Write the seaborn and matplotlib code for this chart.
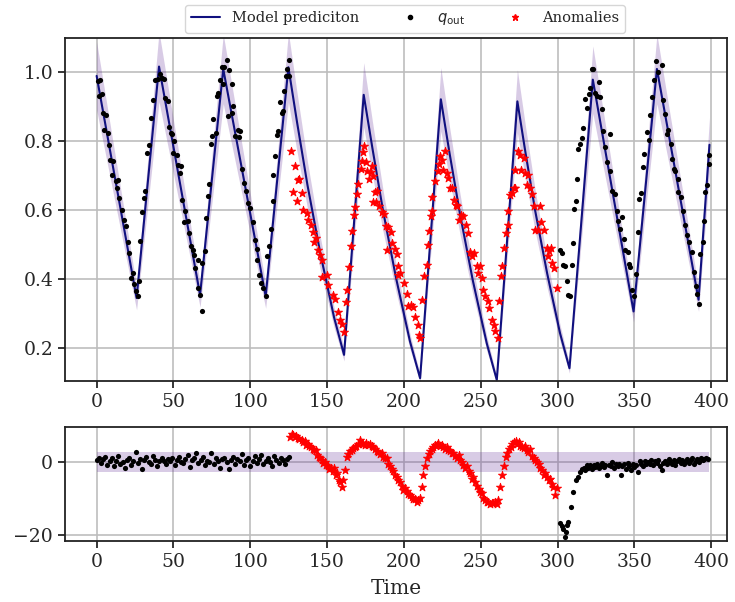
import numpy as np
import pandas as pd
import matplotlib
matplotlib.use("Agg")
import matplotlib.pyplot as plt
import seaborn as sns
from matplotlib.lines import Line2D

# ---------------- data ----------------
model_t = [0, 26, 40.6, 67.3, 82.4, 110, 124.8, 130.4, 137.2, 145.5, 154.5, 161,
           173.8, 179.5, 186.4, 194.8, 203.9, 210.5, 224, 229.6, 236.5, 244.8, 253.9,
           260.4, 273.8, 279.0, 285.4, 293.2, 301.6, 307.7, 322.9, 349.4, 364.6,
           391.7, 398.8]
model_y = [0.99, 0.345, 1.017, 0.354, 1.01, 0.35, 1.015, 0.856, 0.673, 0.476, 0.289, 0.18,
           0.935, 0.779, 0.598, 0.404, 0.219, 0.112, 0.922, 0.767, 0.588, 0.396, 0.213,
           0.107, 0.916, 0.769, 0.598, 0.416, 0.242, 0.141, 0.979, 0.306, 1.01,
           0.34, 0.79]
band_rel = 0.10          # relative half-width of the model uncertainty band
res_band = 2.85          # half-width of the residual band

top_black_t = [0.6, 1.5, 2.2, 3.2, 4.3, 4.8, 5.8, 7.1, 8.0, 8.7, 9.8, 10.8, 12.3, 13.0, 14.1,
               14.7, 16.3, 17.9, 18.9, 20.2, 21.0, 22.3, 23.8, 24.5, 25.4, 26.7, 27.6, 28.2,
               29.3, 31.1, 31.5, 32.6, 34.1, 35.4, 36.9, 38.0, 39.7, 41.2, 42.7, 44.0, 44.5,
               46.2, 47.1, 48.4, 49.3, 49.9, 50.6, 52.1, 53.2, 54.3, 54.9, 55.8, 57.1, 57.5,
               59.2, 60.1, 61.4, 62.9, 63.6, 64.0, 65.7, 66.2, 67.3, 68.3, 68.8, 70.5, 71.2,
               72.7, 73.1, 74.4, 75.3, 75.9, 77.5, 78.1, 79.2, 80.3, 81.4, 82.4, 83.1, 84.6,
               85.3, 86.1, 87.9, 88.3, 88.9, 90.0, 91.8, 92.6, 93.3, 94.8, 96.1, 97.0, 98.3,
               99.8, 102.0, 103.1, 104.2, 104.6, 105.9, 106.8, 108.1, 110.2, 110.6, 112.4,
               113.2, 114.5, 115.0, 116.0, 117.6, 118.2, 119.3, 120.4, 121.5, 121.9, 123.2,
               123.7, 124.9, 125.4,
               301.6, 302.7, 303.8, 304.9, 306.0, 307.0, 308.2, 309.3, 309.9, 310.7, 312.0,
               312.9, 313.5, 314.7, 315.7, 316.8, 317.9, 319.0, 320.1, 321.2, 322.3, 323.3,
               324.4, 325.5, 326.6, 327.7, 328.8, 329.8, 330.9, 332.0, 333.8, 334.2, 335.3,
               337.4, 338.5, 339.6, 340.7, 341.8, 342.9, 344.0, 345.5, 346.2, 347.3, 348.4,
               349.9, 351.1, 352.0, 352.9, 354.2, 355.5, 356.4, 358.1, 359.2, 359.8, 361.3,
               362.4, 364.1, 365.6, 367.7, 368.8, 369.9, 371.0, 372.1, 373.6, 374.3, 375.4,
               376.5, 378.0, 378.6, 380.4, 381.9, 383.0, 384.1, 385.8, 387.4, 388.5, 390.0,
               390.7, 391.8, 392.9, 394.6, 395.5, 396.1, 397.2, 398.3, 398.7]
top_black_q = [0.976, 0.931, 0.979, 0.936, 0.883, 0.834, 0.876, 0.824, 0.79, 0.747, 0.703, 0.744,
               0.686, 0.664, 0.689, 0.635, 0.601, 0.572, 0.553, 0.509, 0.475, 0.402, 0.417,
               0.386, 0.364, 0.35, 0.393, 0.511, 0.594, 0.635, 0.655, 0.766, 0.788, 0.868,
               0.921, 0.979, 0.982, 0.994, 0.984, 0.982, 0.926, 0.916, 0.841, 0.824, 0.82,
               0.766, 0.80, 0.761, 0.732, 0.708, 0.727, 0.63, 0.567, 0.598, 0.569, 0.533,
               0.497, 0.484, 0.47, 0.432, 0.455, 0.375, 0.354, 0.307, 0.448, 0.481, 0.577,
               0.64, 0.676, 0.792, 0.814, 0.866, 0.824, 0.931, 0.941, 0.979, 1.015, 0.965,
               1.015, 1.037, 0.873, 1.008, 0.965, 0.883, 0.902, 0.814, 0.834, 0.813, 0.829,
               0.721, 0.679, 0.657, 0.621, 0.606, 0.567, 0.514, 0.488, 0.456, 0.413, 0.388,
               0.374, 0.35, 0.468, 0.497, 0.546, 0.628, 0.701, 0.756, 0.819, 0.829, 0.914,
               0.882, 0.887, 0.945, 0.989, 1.011, 0.99, 1.037,
               0.485, 0.476, 0.442, 0.437, 0.395, 0.355, 0.35, 0.442, 0.505, 0.602, 0.626,
               0.69, 0.777, 0.792, 0.81, 0.84, 0.922, 0.898, 0.937, 0.956, 1.01, 1.01,
               0.939, 0.932, 0.971, 0.93, 0.894, 0.831, 0.783, 0.739, 0.821, 0.715, 0.657,
               0.648, 0.599, 0.57, 0.546, 0.58, 0.517, 0.483, 0.478, 0.444, 0.435, 0.367,
               0.352, 0.415, 0.536, 0.633, 0.65, 0.725, 0.764, 0.827, 0.803, 0.875, 0.93,
               0.977, 1.033, 1.0, 1.023, 0.919, 0.88, 0.822, 0.832, 0.793, 0.749, 0.72,
               0.715, 0.652, 0.691, 0.638, 0.599, 0.556, 0.527, 0.507, 0.478, 0.42, 0.381,
               0.357, 0.328, 0.473, 0.507, 0.57, 0.652, 0.672, 0.735, 0.759]

top_anom_t = [126.5, 128.0, 129.1, 130.6, 131.2, 131.9, 133.4, 134.5, 136.7, 137.7, 139.3, 141.0,
              141.7, 142.8, 144.3, 145.4, 146.4, 146.9, 149.7, 150.8, 154.0, 155.1, 156.8,
              158.4, 159.5, 161.0, 162.3, 162.7, 164.3, 165.6, 166.4, 167.5, 168.2, 169.3,
              170.3, 171.9, 172.6, 173.2, 174.1, 175.1, 176.0, 177.1, 178.6, 179.1, 179.7,
              180.1, 181.2, 181.9, 182.3, 184.0, 185.5, 187.0, 188.1, 188.7, 189.8, 191.4,
              192.0, 194.2, 195.3, 195.8, 196.4, 197.5, 200.1, 201.8, 202.9, 204.6, 206.1,
              207.2, 209.0, 209.9, 210.5, 212.0, 213.3, 214.8, 215.5, 216.3, 217.6, 218.0,
              218.5, 220.2, 221.9, 223.0, 223.4, 225.0, 225.7, 226.7, 227.8, 228.9, 229.9,
              231.5, 232.8, 233.6, 234.5, 235.8, 237.1, 238.6, 240.1, 241.5, 243.0, 244.5,
              245.8, 247.3, 248.4, 249.5, 251.0, 251.7, 252.8, 254.5, 255.4, 257.1, 258.9,
              259.3, 261.0, 261.9, 263.2, 264.1, 265.4, 266.5, 267.6, 268.0, 269.1, 270.6,
              271.3, 272.0, 272.4, 274.2, 275.7, 276.4, 277.9, 279.0, 280.1, 280.7, 282.2,
              283.3, 284.4, 285.5, 287.2, 288.8, 289.4, 290.9, 293.1, 293.8, 294.6, 295.6,
              296.2, 297.7, 299.9]
top_anom_q = [0.772, 0.652, 0.727, 0.628, 0.688, 0.692, 0.65, 0.601, 0.591, 0.572, 0.557, 0.537,
              0.509, 0.518, 0.484, 0.469, 0.455, 0.406, 0.411, 0.382, 0.353, 0.343, 0.305,
              0.28, 0.27, 0.246, 0.333, 0.367, 0.434, 0.497, 0.541, 0.585, 0.609, 0.647,
              0.676, 0.72, 0.744, 0.768, 0.786, 0.74, 0.715, 0.691, 0.71, 0.728, 0.70,
              0.625, 0.652, 0.623, 0.657, 0.613, 0.594, 0.589, 0.555, 0.485, 0.55, 0.536,
              0.506, 0.487, 0.472, 0.413, 0.438, 0.419, 0.39, 0.356, 0.322, 0.325, 0.32,
              0.289, 0.268, 0.239, 0.229, 0.34, 0.408, 0.442, 0.5, 0.541, 0.583, 0.638,
              0.597, 0.684, 0.715, 0.733, 0.757, 0.747, 0.718, 0.773, 0.708, 0.694, 0.665,
              0.663, 0.631, 0.616, 0.611, 0.572, 0.587, 0.582, 0.558, 0.534, 0.48, 0.466,
              0.476, 0.437, 0.418, 0.437, 0.403, 0.369, 0.35, 0.335, 0.316, 0.282, 0.268,
              0.248, 0.229, 0.335, 0.408, 0.437, 0.49, 0.534, 0.597, 0.556, 0.645, 0.65,
              0.665, 0.665, 0.718, 0.771, 0.761, 0.718, 0.752, 0.708, 0.674, 0.703, 0.665,
              0.647, 0.611, 0.543, 0.543, 0.611, 0.567, 0.543, 0.49, 0.466, 0.481, 0.49,
              0.447, 0.432, 0.374]

# residuals, normal period at the start (evenly sampled from t=0 to t=125.5)
res_start_r = [0.5, 1.2, -0.3, 0.8, 1.5, -0.8, 0.2, 1.0, -1.2, 0.4, 1.8, -0.5, 0.0, -1.5, 0.6,
               1.1, -0.9, 0.3, 2.8, -0.2, 0.9, -1.8, 0.5, 1.3, 0.1, -0.6, 1.6, 0.7, -1.0, 0.2,
               1.2, 0.4, -0.4, 0.9, 0.3, 1.0, -0.7, 0.6, 1.4, 0.0, -0.3, 0.8, 1.9, -1.4, 0.5,
               1.1, 2.5, -0.2, 0.7, 1.3, -0.9, 0.4, 0.0, 2.4, -0.5, 1.0, 0.3, -1.6, 0.9, 1.2,
               0.0, -2.0, 0.6, 1.5, -0.4, 0.8, 0.2, 2.2, -0.8, 0.5, 1.0, -1.1, 0.3, 1.7, -0.3,
               0.9, 2.0, -0.6, 0.4, 1.2, 0.0, -1.0, 1.6, 0.7, -0.2, 1.1, 0.5, -0.5, 0.8, 1.3]
res_end_t = [301.6, 302.7, 303.8, 304.9, 305.5, 306.0, 307.0, 308.6, 310.3, 312.0, 313.0, 314.7,
             316.0, 317.0, 318.0, 319.0, 320.0, 321.0, 322.3, 323.5, 324.6, 325.7, 327.0, 328.0,
             329.0, 330.0, 331.0, 332.3, 333.4, 334.5, 335.6, 336.7, 337.8, 339.0, 340.0, 341.0,
             342.2, 343.3, 344.4, 345.5, 346.6, 347.7, 348.8, 350.0, 351.0, 352.2, 353.3, 354.4,
             355.5, 356.6, 357.7, 358.8, 360.0, 361.0, 362.2, 363.3, 364.4, 365.5, 366.6, 367.8,
             368.8, 370.0, 371.0, 372.2, 373.3, 374.4, 375.5, 376.6, 377.7, 378.8, 380.0, 381.0,
             382.2, 383.3, 384.4, 385.5, 386.6, 387.7, 388.8, 390.0, 391.0, 392.2, 393.3, 394.4,
             395.5, 396.6, 397.7]
res_end_r = [-16.8, -17.5, -18.2, -20.5, -19.0, -17.2, -16.5, -12.2, -8.1, -4.9, -4.0, -2.7,
             -2.0, -1.5, -2.2, -0.8, -1.5, -0.7, -1.8, -0.9, -1.3, -0.5, -1.7, -1.0, -0.3,
             -1.4, -0.7, -3.6, -0.8, -1.2, 0.0, -1.6, -0.6, -1.1, -0.4, -3.6, -1.2, -0.6, -1.8,
             -0.2, -1.2, -2.2, -0.4, -1.4, -0.8, -2.7, 0.3, -0.5, -1.0, 0.4, -0.6, 0.0, -0.4,
             0.5, -0.8, 0.2, -0.2, 0.6, -1.0, -2.2, -0.3, 0.4, -0.6, 0.8, 0.0, -0.4, 0.5, -0.8,
             0.3, 0.9, -0.2, 0.6, -0.5, 0.2, 0.8, -0.3, 0.5, 1.0, -0.6, 0.4, 0.9, 0.1, 1.0, 0.5,
             0.8, 1.2, 0.9]

res_anom_t = [126.0, 127.0, 128.0, 129.0, 130.0, 131.0, 132.0, 133.4, 134.5, 135.5, 136.5, 137.5,
              138.5, 139.5, 140.5, 141.5, 142.5, 143.5, 144.5, 145.5, 146.5, 147.5, 148.6, 149.5,
              150.5, 151.5, 152.5, 153.5, 154.5, 155.5, 156.5, 157.5, 158.5, 159.4, 160.3, 161.6,
              162.8, 163.8, 165.0, 166.0, 167.0, 168.0, 169.0, 170.2, 171.4, 172.5, 173.5, 174.5,
              175.5, 176.7, 177.8, 179.0, 180.0, 181.0, 182.2, 183.3, 184.5, 185.5, 186.5, 187.6,
              188.7, 189.8, 190.8, 192.0, 193.0, 194.2, 195.3, 196.4, 197.5, 198.6, 199.6, 200.7,
              201.8, 202.9, 204.0, 205.0, 206.2, 207.3, 208.3, 209.4, 210.5, 211.6, 212.6, 213.7,
              214.8, 216.0, 217.0, 218.0, 219.2, 220.3, 221.4, 222.4, 223.5, 224.6, 225.6, 226.7,
              227.8, 228.9, 230.0, 231.0, 232.2, 233.3, 234.4, 235.5, 236.5, 237.6, 238.7, 239.8,
              241.0, 242.0, 243.0, 244.1, 245.2, 246.3, 247.4, 248.5, 249.5, 250.6, 251.7, 252.8,
              253.8, 254.9, 256.0, 257.0, 258.2, 259.3, 260.4, 261.5, 262.8, 263.9, 265.0, 266.2,
              267.3, 268.4, 269.5, 270.6, 271.6, 272.7, 273.8, 274.8, 275.8, 276.8, 277.9, 279.0,
              280.0, 281.0, 282.2, 283.3, 284.4, 285.5, 286.5, 287.6, 288.7, 289.8, 290.8, 291.9,
              293.0, 294.1, 295.2, 296.2, 297.3, 298.4, 299.4]
res_anom_r = [7.0, 7.6, 7.5, 6.8, 7.2, 6.5, 6.2, 6.0, 5.5, 5.8, 4.8, 5.0,
              4.4, 4.0, 3.6, 3.2, 3.3, 2.0, 1.5, 1.0, 0.5, -0.3, 0.0, -0.8,
              -1.2, -2.0, -1.5, -2.5, -1.7, -3.5, -3.0, -4.8, -5.5, -6.8, -5.0, -2.2,
              1.5, 2.3, 3.0, 3.3, 3.8, 4.2, 4.4, 5.0, 6.0, 5.2, 5.0, 4.6,
              5.3, 4.6, 5.0, 4.4, 4.2, 3.6, 3.0, 2.8, 2.2, 2.6, 1.5, 1.0,
              1.0, -0.5, -1.0, -2.0, -2.5, -3.6, -4.0, -5.0, -5.4, -6.5, -7.7, -7.0,
              -8.0, -8.6, -9.0, -9.5, -10.2, -10.0, -10.9, -10.5, -9.8, -6.8, -3.6, -1.0,
              1.0, 2.2, 3.0, 3.7, 4.2, 4.6, 4.8, 5.1, 4.5, 4.8, 4.0, 3.7,
              4.2, 3.2, 3.0, 2.4, 2.4, 1.8, 1.2, 2.0, 0.5, 0.0, -0.8, -1.5,
              -1.0, -2.5, -3.0, -4.5, -4.0, -5.5, -6.5, -7.5, -8.1, -8.5, -9.8, -10.3,
              -10.9, -11.0, -11.5, -11.2, -11.3, -11.0, -11.5, -10.5, -6.8, -3.6, -1.0, 1.5,
              2.5, 3.5, 4.2, 5.0, 5.5, 5.9, 5.0, 5.5, 4.5, 4.2, 3.8, 4.4,
              3.2, 2.8, 3.5, 1.8, 1.2, 0.6, 0.0, -0.5, -1.5, -2.2, -3.6, -3.0,
              -4.2, -5.0, -4.6, -5.9, -6.8, -9.0, -7.2]

x_ticks = [0, 50, 100, 150, 200, 250, 300, 350, 400]
top_yticks = [0.2, 0.4, 0.6, 0.8, 1.0]
bot_yticks = [-20, 0]
labels = ["Model prediciton", r"$q_{\rm out}$", "Anomalies"]

# ---------------- styling ----------------
sns.set_style("ticks")
plt.rcParams['font.family'] = ['DejaVu Serif']
plt.rcParams['mathtext.fontset'] = 'dejavusans'

line_col = "#10107f"
band_col = "rebeccapurple"
grid_col = "#bdbdbd"

fig = plt.figure(figsize=(7.35, 6.02), dpi=100)
ax1 = fig.add_axes([0.0884, 0.3671, 0.9007, 0.5698])
ax2 = fig.add_axes([0.0884, 0.1013, 0.9007, 0.1894])

model_df = pd.DataFrame({"t": model_t, "y": model_y})
mt = np.asarray(model_t)
my = np.asarray(model_y)

# ---- top panel ----
ax1.fill_between(mt, my * (1 - band_rel), my * (1 + band_rel),
                 color=band_col, alpha=0.25, linewidth=0, zorder=1)
sns.lineplot(data=model_df, x="t", y="y", ax=ax1, color=line_col, linewidth=1.5,
             sort=False, estimator=None, zorder=2, legend=False)
sns.scatterplot(x=top_black_t, y=top_black_q, ax=ax1, color="black", s=14,
                linewidth=0, zorder=3, legend=False)
sns.scatterplot(x=top_anom_t, y=top_anom_q, ax=ax1, color="red", marker="*", s=38,
                edgecolor="red", linewidth=0.6, zorder=3, legend=False)

# ---- bottom panel ----
res_start_t = np.linspace(0, 125.5, len(res_start_r))
res_black_t = np.concatenate([res_start_t, res_end_t])
res_black_r = np.concatenate([res_start_r, res_end_r])
ax2.fill_between([0, 398.8], [-res_band, -res_band], [res_band, res_band],
                 color=band_col, alpha=0.25, linewidth=0, zorder=1)
sns.scatterplot(x=res_black_t, y=res_black_r, ax=ax2, color="black", s=14,
                linewidth=0, zorder=3, legend=False)
sns.scatterplot(x=res_anom_t, y=res_anom_r, ax=ax2, color="red", marker="*", s=38,
                edgecolor="red", linewidth=0.6, zorder=3, legend=False)

for ax in (ax1, ax2):
    ax.set_xlim(-20.6, 410.2)
    ax.set_xticks(x_ticks)
    ax.grid(True, color=grid_col, linewidth=1.2, zorder=0)
    ax.set_axisbelow(True)
    ax.tick_params(labelsize=13.5, length=5, width=1.1, color="black")
    ax.set_ylabel("")
    for sp in ax.spines.values():
        sp.set_visible(True)
        sp.set_color("#222222")
        sp.set_linewidth(1.3)

ax1.set_ylim(0.104, 1.1)
ax1.set_yticks(top_yticks)
ax1.set_xlabel("")
ax2.set_ylim(-21.6, 9.6)
ax2.set_yticks(bot_yticks)
ax2.set_xlabel("Time", fontsize=14.5, labelpad=6)

handles = [Line2D([0], [0], color=line_col, lw=1.5),
           Line2D([0], [0], color="black", marker="o", markersize=3, linestyle="none"),
           Line2D([0], [0], color="red", marker="*", markersize=5, linestyle="none")]
leg = fig.legend(handles, labels, loc="center", bbox_to_anchor=(0.551, 0.968), ncol=3,
                 fontsize=10.5, columnspacing=2.5, frameon=True, fancybox=True,
                 edgecolor="#cccccc", borderpad=0.4)

fig.savefig("out.png", dpi=100)
